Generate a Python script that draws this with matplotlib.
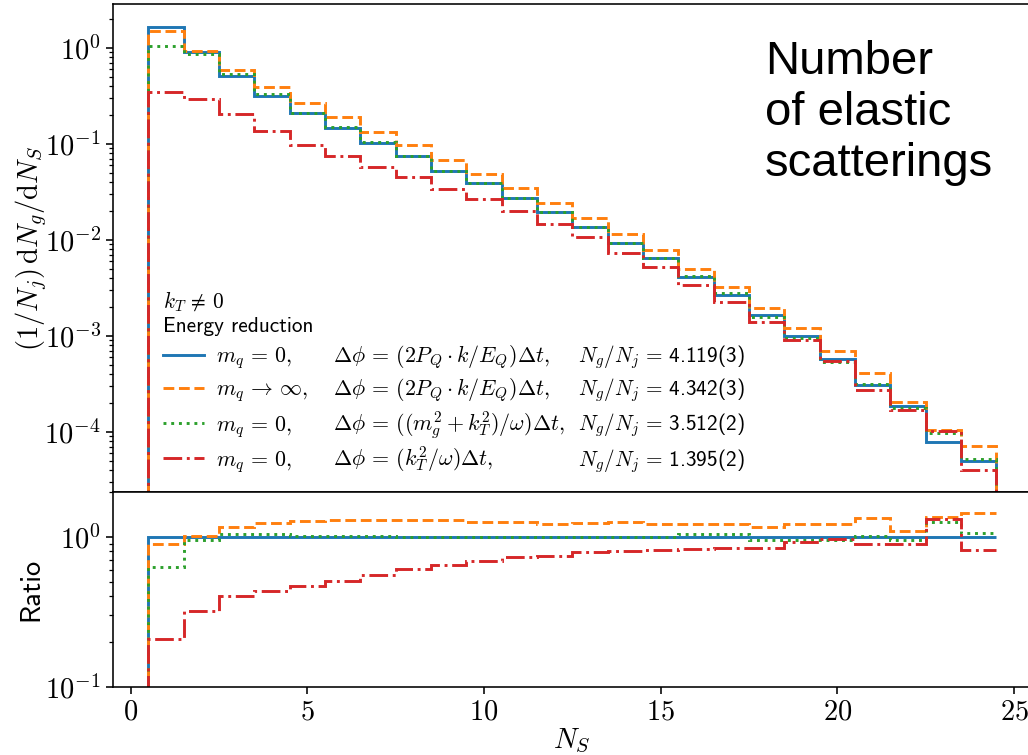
#!/usr/bin/env python3
"""Distribution of the number of elastic scatterings, with ratio panel."""

import matplotlib

matplotlib.use("Agg")
import matplotlib.pyplot as plt
import numpy as np

# number of elastic scatterings N_S (bin centres) and bin edges
n_s = np.arange(0, 25)
edges = np.arange(-0.5, 25.0, 1.0)

# (1/N_j) dN_g/dN_S for the four energy-reduction prescriptions
massless_pk = [0.0, 1.65, 0.91, 0.507, 0.314, 0.207, 0.146, 0.102, 0.0745, 0.0523,
               0.0386, 0.0274, 0.0196, 0.01366, 0.00916, 0.00638, 0.00405, 0.00265,
               0.00166, 0.000984, 0.000566, 0.000309, 0.000187, 7.74e-5, 4.9e-5]
heavy_pk = [0.0, 1.485, 0.928, 0.591, 0.386, 0.263, 0.188, 0.1316, 0.0961, 0.0675,
            0.04825, 0.03425, 0.0239, 0.0168, 0.01145, 0.00775, 0.00492, 0.00322,
            0.001936, 0.00119, 0.000685, 0.000411, 0.000204, 0.0001045, 7.08e-5]
massless_mg = [0.0, 1.036, 0.8645, 0.527, 0.3266, 0.2111, 0.1475, 0.1030, 0.0745, 0.0523,
               0.0386, 0.0274, 0.0196, 0.01366, 0.00916, 0.00638, 0.00421, 0.002756,
               0.001577, 0.000935, 0.000538, 0.000314, 0.000178, 9.68e-5, 5.19e-5]
massless_kt = [0.0, 0.343, 0.292, 0.2028, 0.1369, 0.0967, 0.0740, 0.0569, 0.04515, 0.03368,
               0.0266, 0.02006, 0.01464, 0.01075, 0.00733, 0.0052, 0.00337, 0.00224,
               0.001388, 0.000903, 0.000543, 0.000275, 0.0001664, 0.0001014, 3.97e-5]

series = [massless_pk, heavy_pk, massless_mg, massless_kt]
styles = ["-", "--", ":", "-."]
colors = ["C0", "C1", "C2", "C3"]

mass_labels = [r"$m_q \,=\, 0,$", r"$m_q \,\to\, \infty,$", r"$m_q \,=\, 0,$", r"$m_q \,=\, 0,$"]
phase_labels = [r"$\Delta\phi \,=\, (2P_Q \cdot k/E_Q)\Delta t,$",
                r"$\Delta\phi \,=\, (2P_Q \cdot k/E_Q)\Delta t,$",
                r"$\Delta\phi \,=\, ((m_g^2 + k_T^2)/\omega)\Delta t,$",
                r"$\Delta\phi \,=\, (k_T^2/\omega)\Delta t,$"]
gluon_counts = ["4.119(3)", "4.342(3)", "3.512(2)", "1.395(2)"]

plt.rcParams.update({
    "font.family": "serif",
    "font.serif": ["cmr10"],
    "mathtext.fontset": "cm",
    "axes.formatter.use_mathtext": True,
    "font.size": 20.5,
    "lines.linewidth": 2.1,
    "axes.linewidth": 1.15,
    "axes.labelpad": 1.0,
    "xtick.major.size": 4.7,
    "ytick.major.size": 4.7,
    "xtick.minor.size": 2.8,
    "ytick.minor.size": 2.8,
    "xtick.major.width": 1.15,
    "ytick.major.width": 1.15,
    "xtick.minor.width": 0.9,
    "ytick.minor.width": 0.9,
    "xtick.major.pad": 4.0,
    "ytick.major.pad": 4.0,
})

SANS = "cmss10"
TEXT_SIZE = 15.3
MATH_SIZE = 15.8


def main():
    fig = plt.figure(figsize=(10.28, 7.55), dpi=100)
    ax = fig.add_axes([0.1099, 0.3487, 0.8937, 0.6456])
    rax = fig.add_axes([0.1099, 0.0905, 0.8937, 0.2583], sharex=ax)

    ref = np.asarray(massless_pk)
    handles = []
    for vals, ls, c in zip(series, styles, colors):
        vals = np.asarray(vals)
        h = ax.stairs(vals, edges, baseline=0, color=c, linestyle=ls, lw=2.1)
        handles.append(h)
        ratio = np.divide(vals, ref, out=np.zeros_like(vals), where=ref > 0)
        rax.stairs(ratio, edges, baseline=None, color=c, linestyle=ls, lw=2.1)

    ax.set_yscale("log")
    ax.set_ylim(2.37e-5, 2.83)
    ax.set_xlim(-0.5, 25.5)
    ax.tick_params(labelbottom=False)
    ax.set_ylabel(r"$(1/N_j)\,\mathrm{d}N_g/\mathrm{d}N_S$")
    ax.yaxis.set_label_coords(-0.0695, 0.5)

    rax.set_yscale("log")
    rax.set_ylim(0.1, 2.0)
    rax.set_xlabel(r"$N_S$", labelpad=1.5)
    rax.set_ylabel("Ratio", family=SANS)
    rax.yaxis.set_label_coords(-0.076, 0.5)

    ax.text(0.7098, 0.9267, "Number\nof elastic\nscatterings", transform=ax.transAxes,
            ha="left", va="top", fontsize=34, family="Liberation Sans", linespacing=1.2)

    leg = ax.legend(handles, mass_labels, loc="lower left", bbox_to_anchor=(0.0544, 0.035),
                    frameon=False, prop={"family": SANS, "size": MATH_SIZE},
                    title="$k_T \\,\\neq\\, 0$\nEnergy reduction",
                    title_fontproperties={"family": SANS, "size": TEXT_SIZE},
                    alignment="left", borderpad=0, borderaxespad=0,
                    labelspacing=0.42, handletextpad=0.55, handlelength=1.85)

    # the other two legend columns, on the same baselines as the legend rows
    fig.canvas.draw()
    to_axes = ax.transAxes.inverted()
    for txt, phase, count in zip(leg.get_texts(), phase_labels, gluon_counts):
        base = txt.get_transform().transform(txt.get_position())
        y = to_axes.transform(base)[1]
        ax.text(0.2395, y, phase, transform=ax.transAxes, va="baseline",
                family=SANS, fontsize=MATH_SIZE)
        ax.text(0.506, y, r"$N_g/N_j \,=\,$" + count, transform=ax.transAxes,
                va="baseline", family=SANS, fontsize=TEXT_SIZE)

    fig.savefig("out.png", dpi=100)


if __name__ == "__main__":
    main()
